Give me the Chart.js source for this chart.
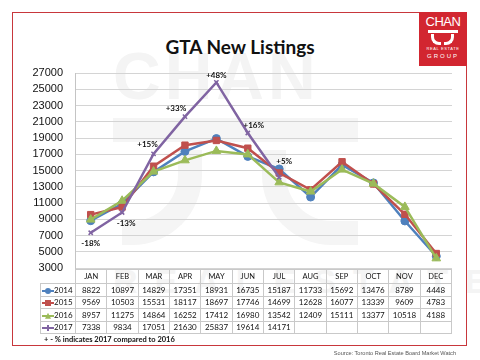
<!DOCTYPE html>
<html><head><meta charset="utf-8">
<script src="https://cdn.jsdelivr.net/npm/chart.js@4.4.1/dist/chart.umd.min.js"></script>
<style>
html,body{margin:0;padding:0;background:#fff;}
#wrap{position:relative;width:480px;height:360px;overflow:hidden;font-family:Lato,"Liberation Sans",sans-serif;}
#frame{position:absolute;left:12px;top:12px;width:455px;height:334px;border:1px solid #c8373c;box-sizing:border-box;}
#title{position:absolute;left:0;width:480px;top:35px;text-align:center;font:bold 19px Lato,sans-serif;color:#111;}
#logo{position:absolute;left:419px;top:12px;width:48px;height:54px;background:#d22630;color:#fff;text-align:center;}
#logo .c{font:13px "Liberation Sans",sans-serif;letter-spacing:-0.5px;margin-top:3px;line-height:13px;}
#logo .s{position:relative;height:18px;}
#logo .s .b{position:absolute;left:9px;top:2px;width:30px;height:3px;background:#fff;}
#logo .s .l{position:absolute;left:12px;top:6px;width:10px;height:11px;border-right:3px solid #fff;border-bottom:3px solid #fff;border-radius:0 0 8px 0;box-sizing:border-box;transform:scaleX(-1);}
#logo .s .r{position:absolute;left:25px;top:6px;width:10px;height:11px;border-left:3px solid #fff;border-bottom:3px solid #fff;border-radius:0 0 0 8px;box-sizing:border-box;transform:scaleX(-1);}
#logo .t1{font:4px "Liberation Sans",sans-serif;letter-spacing:0.6px;line-height:6px;}
#logo .t2{font:6px "Liberation Sans",sans-serif;letter-spacing:2px;line-height:8px;}
#wm1{position:absolute;left:113px;top:38px;font:bold 66px "Liberation Sans",sans-serif;color:#f4f4f4;letter-spacing:4px;}
#wmbar{position:absolute;left:113px;top:118px;width:245px;height:24px;background:#f5f5f5;}
#wmc1{position:absolute;left:122px;top:150px;width:80px;height:95px;border-right:24px solid #f5f5f5;border-bottom:24px solid #f5f5f5;border-radius:0 0 70px 0;box-sizing:border-box;}
#wmc2{position:absolute;left:262px;top:150px;width:96px;height:95px;border-left:24px solid #f5f5f5;border-bottom:24px solid #f5f5f5;border-radius:0 0 0 70px;box-sizing:border-box;}
#wm2{position:absolute;left:113px;top:262px;font:bold 34px "Liberation Sans",sans-serif;color:#f4f4f4;letter-spacing:17px;white-space:nowrap;}
canvas{position:absolute;left:0;top:0;}
#tbl{position:absolute;left:40px;top:269px;border-collapse:collapse;table-layout:fixed;width:412px;font:8px Lato,"Liberation Sans",sans-serif;color:#111;}
#tbl td{border:1px solid #c9c9c9;text-align:center;padding:0;white-space:nowrap;overflow:hidden;line-height:10px;}
#tbl tr.h td{height:13px;font-size:7.5px;}
#tbl tr.d td{height:11.5px;}
#tbl td.e{border-top:none;border-left:none;}
#tbl td.lg{text-align:left;padding-left:1px;}
.mk{display:inline-block;position:relative;width:12px;height:6px;vertical-align:middle;margin-right:0px;}
.mk .ln{position:absolute;left:0;top:2px;width:12px;height:2px;}
.mk .dt{position:absolute;left:3px;top:0px;width:6px;height:6px;}
#foot{position:absolute;left:44px;top:335px;font:bold 7.5px Lato,sans-serif;color:#111;white-space:nowrap;}
#src{position:absolute;right:24px;top:350px;font:5.6px "Liberation Sans",sans-serif;color:#555;white-space:nowrap;}
</style></head>
<body>
<div id="wrap">
  <div id="wm1">CHAN</div>
  <div id="wmbar"></div><div id="wmc1"></div><div id="wmc2"></div>
  <div id="wm2">REALESTATE</div>
  <div id="frame"></div>
  <div id="title">GTA New Listings</div>
  <canvas id="c" width="480" height="360"></canvas>
  <table id="tbl"></table>
  <div id="foot">+ - % indicates 2017 compared to 2016</div>
  <div id="src">Source: Toronto Real Estate Board Market Watch</div>
  <div id="logo"><div class="c">CHAN</div><div class="s"><div class="b"></div><div class="l"></div><div class="r"></div></div><div class="t1">REAL ESTATE</div><div class="t2">GROUP</div></div>
</div>
<script>
const months = ['JAN','FEB','MAR','APR','MAY','JUN','JUL','AUG','SEP','OCT','NOV','DEC'];
const years = ['2014','2015','2016','2017'];
const s2014 = [8822,10897,14829,17351,18931,16735,15187,11733,15692,13476,8789,4448];
const s2015 = [9569,10503,15531,18117,18697,17746,14699,12628,16077,13339,9609,4783];
const s2016 = [8957,11275,14864,16252,17412,16980,13542,12409,15111,13377,10518,4188];
const s2017 = [7338,9834,17051,21630,25837,19614,14171,null,null,null,null,null];
const pctLabels = ['-18%','-13%','+15%','+33%','+48%','+16%','+5%'];
const yTicks = [3000,5000,7000,9000,11000,13000,15000,17000,19000,21000,23000,25000,27000];

const colors = ['#4f81bd','#c0504d','#9bbb59','#8064a2'];
const styles = ['circle','rect','triangle','crossRot'];
const radii = [4,4.5,5,3];
const allSeries = [s2014,s2015,s2016,s2017];

// label offsets (pixels) relative to the 2017 points
const lblOff = [[0,11],[4,11],[-6,-9],[-9,-8],[0,-7],[6,-8],[5,-16]];

const pctPlugin = {
  id:'pct',
  afterDatasetsDraw(chart){
    const ctx = chart.ctx, xs = chart.scales.x, ys = chart.scales.y;
    ctx.save();
    ctx.font = 'bold 8px Lato, sans-serif';
    ctx.fillStyle = '#111';
    ctx.textAlign = 'center';
    ctx.textBaseline = 'middle';
    pctLabels.forEach((t,i)=>{
      const x = xs.getPixelForValue(i) + lblOff[i][0];
      const y = ys.getPixelForValue(s2017[i]) + lblOff[i][1];
      ctx.fillText(t,x,y);
    });
    ctx.restore();
  }
};

new Chart(document.getElementById('c'),{
  type:'line',
  data:{
    labels:months,
    datasets: years.map((yr,k)=>({
      label:yr,
      data:allSeries[k],
      borderColor:colors[k],
      backgroundColor:colors[k],
      borderWidth:2.5,
      pointStyle:styles[k],
      pointRadius:radii[k],
      pointBorderWidth: k===3?1.5:1,
      pointBorderColor:colors[k],
      tension:0,
      spanGaps:false
    })).reverse()
  },
  options:{
    responsive:false,
    animation:false,
    layout:{padding:{left:0,right:28,top:73,bottom:92}},
    plugins:{legend:{display:false},tooltip:{enabled:false}},
    scales:{
      x:{display:false,offset:true},
      y:{
        min:3000,max:27000,
        afterBuildTicks(s){ s.ticks = yTicks.map(v=>({value:v})); },
        afterFit(s){ s.width = 75; },
        grid:{color:'#d4d4d4',drawTicks:false,lineWidth:1},
        border:{display:true,color:'#c4c4c4'},
        ticks:{padding:12,color:'#111',font:{family:'Liberation Sans',size:11},callback:(v)=>String(v)}
      }
    }
  },
  plugins:[pctPlugin]
});

// build data table
const tbl = document.getElementById('tbl');
let html = '<colgroup><col style="width:35px">' + months.map(()=>'<col>').join('') + '</colgroup>';
html += '<tr class="h"><td class="e"></td>' + months.map(m=>'<td>'+m+'</td>').join('') + '</tr>';
const dotCss = ['border-radius:50%','','clip-path:polygon(50% 0,100% 100%,0 100%)','width:2px;left:5px'];
years.forEach((yr,k)=>{
  html += '<tr class="d"><td class="lg"><span class="mk"><span class="ln" style="background:'+colors[k]+'"></span><span class="dt" style="background:'+colors[k]+';'+dotCss[k]+'"></span></span>'+yr+'</td>';
  allSeries[k].forEach(v=>{ html += '<td>'+(v==null?'':v)+'</td>'; });
  html += '</tr>';
});
tbl.innerHTML = html;
</script>
</body></html>
